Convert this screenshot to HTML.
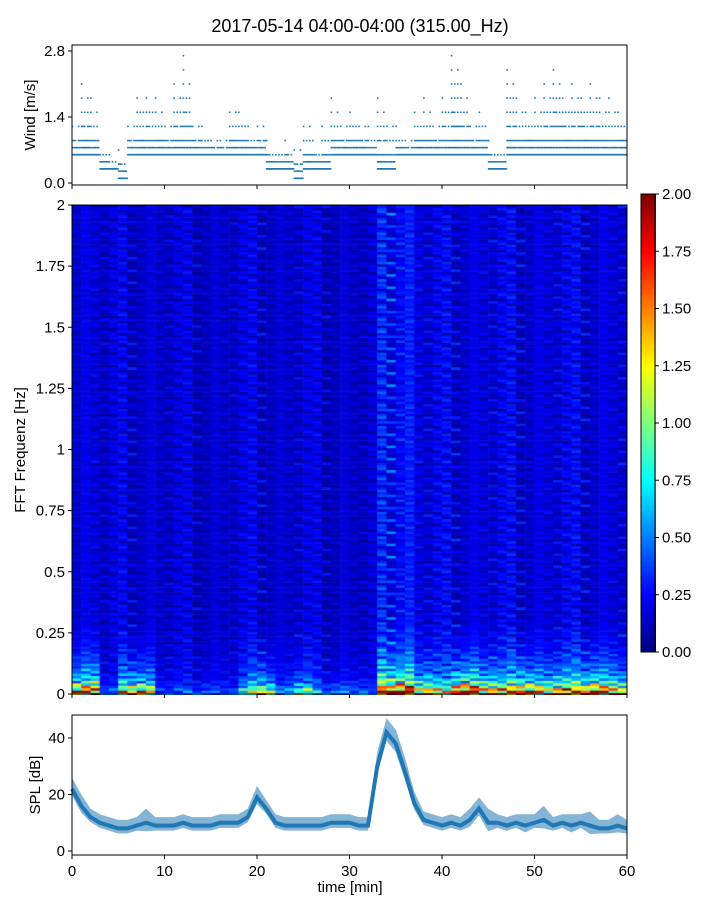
<!DOCTYPE html>
<html><head><meta charset="utf-8"><style>
body{margin:0;background:#fff;font-family:"Liberation Sans",sans-serif;}
svg text{font-family:"Liberation Sans",sans-serif;fill:#000;}
</style></head><body>
<svg id="fig" width="720" height="900" xmlns="http://www.w3.org/2000/svg">
<text x="360" y="32" font-size="18" text-anchor="middle">2017-05-14 04:00-04:00 (315.00_Hz)</text>
<foreignObject x="72" y="205" width="555" height="490"><canvas xmlns="http://www.w3.org/1999/xhtml" id="spec" width="555" height="490" style="display:block"></canvas></foreignObject>
<foreignObject x="641" y="194" width="15" height="458"><canvas xmlns="http://www.w3.org/1999/xhtml" id="cbar" width="15" height="458" style="display:block"></canvas></foreignObject>
<g id="g"></g>
</svg>
<script>
// ---- data ----
const windMax=[1.4,2.2,1.8,0.8,0.6,0.8,1.4,1.9,2.0,1.8,1.4,2.1,2.7,1.4,1.2,1.0,1.0,1.7,1.6,1.2,1.4,1.0,0.8,1.0,0.9,1.4,1.0,1.3,1.8,1.4,1.6,1.4,1.2,1.8,1.4,1.2,1.0,1.6,1.8,1.4,2.0,2.8,2.3,1.4,1.6,1.0,0.8,2.5,1.8,1.6,1.8,2.1,2.6,2.0,2.2,2.0,2.2,1.8,1.8,1.6];
const windMin=[0.6,0.6,0.6,0.3,0.3,0.1,0.6,0.6,0.6,0.6,0.6,0.6,0.6,0.6,0.6,0.6,0.6,0.6,0.6,0.6,0.6,0.3,0.3,0.3,0.1,0.3,0.3,0.3,0.6,0.6,0.6,0.6,0.6,0.3,0.3,0.6,0.6,0.6,0.6,0.6,0.6,0.6,0.6,0.6,0.6,0.3,0.3,0.6,0.6,0.6,0.6,0.6,0.6,0.6,0.6,0.6,0.6,0.6,0.6,0.6];
const subFrac=[1,0.1,0.45,0,0.7,0.2,0.3,0,0.85,0.15,0.4,0.05];
const colAmp=[0.2,0.2,0.2,0.17,0.17,0.18,0.19,0.19,0.18,0.17,0.17,0.17,0.17,0.17,0.17,0.17,0.17,0.17,0.18,0.18,0.19,0.18,0.17,0.17,0.18,0.18,0.17,0.17,0.17,0.17,0.16,0.16,0.16,0.26,0.32,0.34,0.3,0.22,0.2,0.2,0.2,0.21,0.21,0.2,0.2,0.2,0.2,0.2,0.2,0.2,0.2,0.2,0.2,0.2,0.2,0.2,0.21,0.2,0.2,0.2];
const lowBoost=[1.4,1.6,1.7,0.25,0.25,1.2,1.3,1.3,1.1,0.25,0.25,0.25,0.25,0.25,0.3,0.25,0.25,0.25,0.6,1.0,1.2,0.9,0.35,0.5,0.8,0.8,0.45,0.35,0.35,0.35,0.35,0.35,0.25,1.9,1.8,1.8,1.9,1.2,1.4,1.1,1.0,1.7,1.9,1.9,1.4,1.5,1.3,1.6,1.7,1.5,1.3,1.2,1.4,1.5,1.6,1.5,1.7,1.6,1.4,1.2];
const lowProfile=[1.2,1.05,0.85,0.66,0.52,0.43,0.36,0.31,0.27,0.24,0.21,0.19,0.17,0.15,0.13,0.12,0.1,0.09,0.08,0.07,0.06,0.05,0.045,0.04,0.035,0.03,0.025,0.02,0.015];
const rowTexture=[0.7,1.3,0.5,1.0,1.45,0.4,1.15,0.85,1.35,0.6,1.05,0.45,1.2,0.95,0.55,1.5,0.75,1.1,0.4,1.3,0.9,0.6,1.4,0.8,1.1,0.5,1.25,0.7,1.0,0.45,1.35,0.9,0.65,1.2,0.55];
const colTexture=[1.0,0.85,1.15,0.9,1.1,0.8,1.2];
const spl=[22,16,12,10,9,8,8,9,10,9,9,9,10,9,9,9,10,10,10,12,19,15,10,9,9,9,9,9,10,10,10,9,9,30,42,38,28,17,11,10,9,10,9,11,15,10,10,9,10,9,10,11,9,10,9,10,9,8,8,9,8];
const splSpread=[4,4,3,3,3,3,3,3,5,3,3,3,3,3,3,3,3,3,3,3,4,3,3,3,3,3,3,3,3,3,3,3,3,5,5,5,5,4,3,3,3,3,3,4,4,5,3,3,3,4,3,5,3,3,4,3,5,3,3,4,3];
const xTicks=[0,10,20,30,40,50,60];
const windTicks=["0.0","1.4","2.8"];
const freqTicks=["0","0.25","0.5","0.75","1","1.25","1.5","1.75","2"];
const cbTicks=["0.00","0.25","0.50","0.75","1.00","1.25","1.50","1.75","2.00"];
const splTicks=[0,20,40];
// ---- axes ----
const X0=72,X1=627;
const xs=t=>X0+(X1-X0)*t/60;
const yW=v=>183-v*(132/2.8);
const yF=f=>694-f*(489/2);
const yS=v=>851-v*(113/40);
const g=document.getElementById('g');const NS='http://www.w3.org/2000/svg';
function mk(tag,attrs,name,parent){const e=document.createElementNS(NS,tag);for(const k in attrs)e.setAttribute(k,attrs[k]);


(parent||g).appendChild(e);return e;}
function txt(x,y,s,name,anchor,size,rot){const e=mk('text',{x:x,y:y,'font-size':size||15,'text-anchor':anchor||'middle'},name);if(rot)e.setAttribute('transform','rotate(-90 '+x+' '+y+')');e.textContent=s;return e;}
function jet(v){v=Math.max(0,Math.min(1,v));const r=Math.max(0,Math.min(1,1.5-Math.abs(4*v-3))),gg=Math.max(0,Math.min(1,1.5-Math.abs(4*v-2))),b=Math.max(0,Math.min(1,1.5-Math.abs(4*v-1)));return 'rgb('+(r*255|0)+','+(gg*255|0)+','+(b*255|0)+')';}
// wind
const wg=mk('g',{},'wind-scatter');
const NSUB=subFrac.length;
for(let m=0;m<60;m++)for(let k=0;k<NSUB;k++){const t=m+(k+0.5)/NSUB;const top=windMin[m]+(windMax[m]-windMin[m])*subFrac[k];
let j=0;for(let v=windMin[m];v<=top+0.001;v+=0.15,j++){if(j>1&&(j+k)%2==1)continue;mk('rect',{x:xs(t)-0.8,y:yW(v)-0.8,width:1.6,height:1.6,fill:'#1f77b4'},'wind-point',wg);}}
mk('rect',{x:X0,y:45,width:X1-X0,height:140,fill:'none',stroke:'#000','stroke-width':1},'wind-axes-frame');
windTicks.forEach(s=>{const y=yW(parseFloat(s));mk('line',{x1:X0-4,x2:X0,y1:y,y2:y,stroke:'#000'},'wind-y-tick');txt(X0-7,y+5,s,'wind-y-tick-label','end');});
xTicks.forEach(t=>mk('line',{x1:xs(t),x2:xs(t),y1:185,y2:189,stroke:'#000'},'wind-x-tick'));
txt(35,115,'Wind [m/s]','wind-y-axis-title','middle',15,true);
// spectrogram
const cv=document.getElementById('spec').getContext('2d');const NR=200,rh=490/NR,cw=555/60;
for(let m=0;m<60;m++)for(let r=0;r<NR;r++){let v=colAmp[m]*rowTexture[(r*7+m*3)%rowTexture.length]*colTexture[(r+m)%colTexture.length];
if(r<lowProfile.length)v+=lowBoost[m]*lowProfile[r]*rowTexture[(r+m*5)%rowTexture.length];
cv.fillStyle=jet(v/2);cv.fillRect(m*cw,490-(r+1)*rh,cw+0.6,rh+0.6);}
mk('rect',{x:X0,y:205,width:X1-X0,height:489,fill:'none',stroke:'#000'},'spectrogram-frame');
freqTicks.forEach(s=>{const y=yF(parseFloat(s));mk('line',{x1:X0-4,x2:X0,y1:y,y2:y,stroke:'#000'},'freq-y-tick');txt(X0-7,y+5,s,'freq-y-tick-label','end');});
xTicks.forEach(t=>mk('line',{x1:xs(t),x2:xs(t),y1:694,y2:698,stroke:'#000'},'spec-x-tick'));
txt(25,450,'FFT Frequenz [Hz]','freq-y-axis-title','middle',15,true);
// colorbar
const cb=document.getElementById('cbar').getContext('2d');for(let i=0;i<458;i++){cb.fillStyle=jet(1-i/458);cb.fillRect(0,i,15,1);}
mk('rect',{x:641,y:194,width:14,height:458,fill:'none',stroke:'#000'},'colorbar-frame');
cbTicks.forEach(s=>{const y=652-458*parseFloat(s)/2;mk('line',{x1:655,x2:659,y1:y,y2:y,stroke:'#000'},'colorbar-tick');txt(662,y+5,s,'colorbar-tick-label','start');});
// SPL
let band='',lineD='';
spl.forEach((v,i)=>{band+=(i?'L':'M')+xs(i)+','+yS(v+splSpread[i]);lineD+=(i?'L':'M')+xs(i)+','+yS(v);});
for(let i=spl.length-1;i>=0;i--)band+='L'+xs(i)+','+yS(Math.max(0,spl[i]-splSpread[i]*0.6));
mk('path',{d:band+'Z',fill:'#1f77b4','fill-opacity':0.55},'spl-band');
mk('path',{d:lineD,fill:'none',stroke:'#1f77b4','stroke-width':4},'spl-line');
mk('rect',{x:X0,y:715,width:X1-X0,height:140,fill:'none',stroke:'#000'},'spl-axes-frame');
splTicks.forEach(v=>{const y=yS(v);mk('line',{x1:X0-4,x2:X0,y1:y,y2:y,stroke:'#000'},'spl-y-tick');txt(X0-7,y+5,String(v),'spl-y-tick-label','end');});
xTicks.forEach(t=>{mk('line',{x1:xs(t),x2:xs(t),y1:855,y2:859,stroke:'#000'},'spl-x-tick');txt(xs(t),876,String(t),'x-tick-label','middle');});
txt(40,785,'SPL [dB]','spl-y-axis-title','middle',15,true);
txt(350,892,'time [min]','x-axis-title','middle',15);
</script>
</body></html>
